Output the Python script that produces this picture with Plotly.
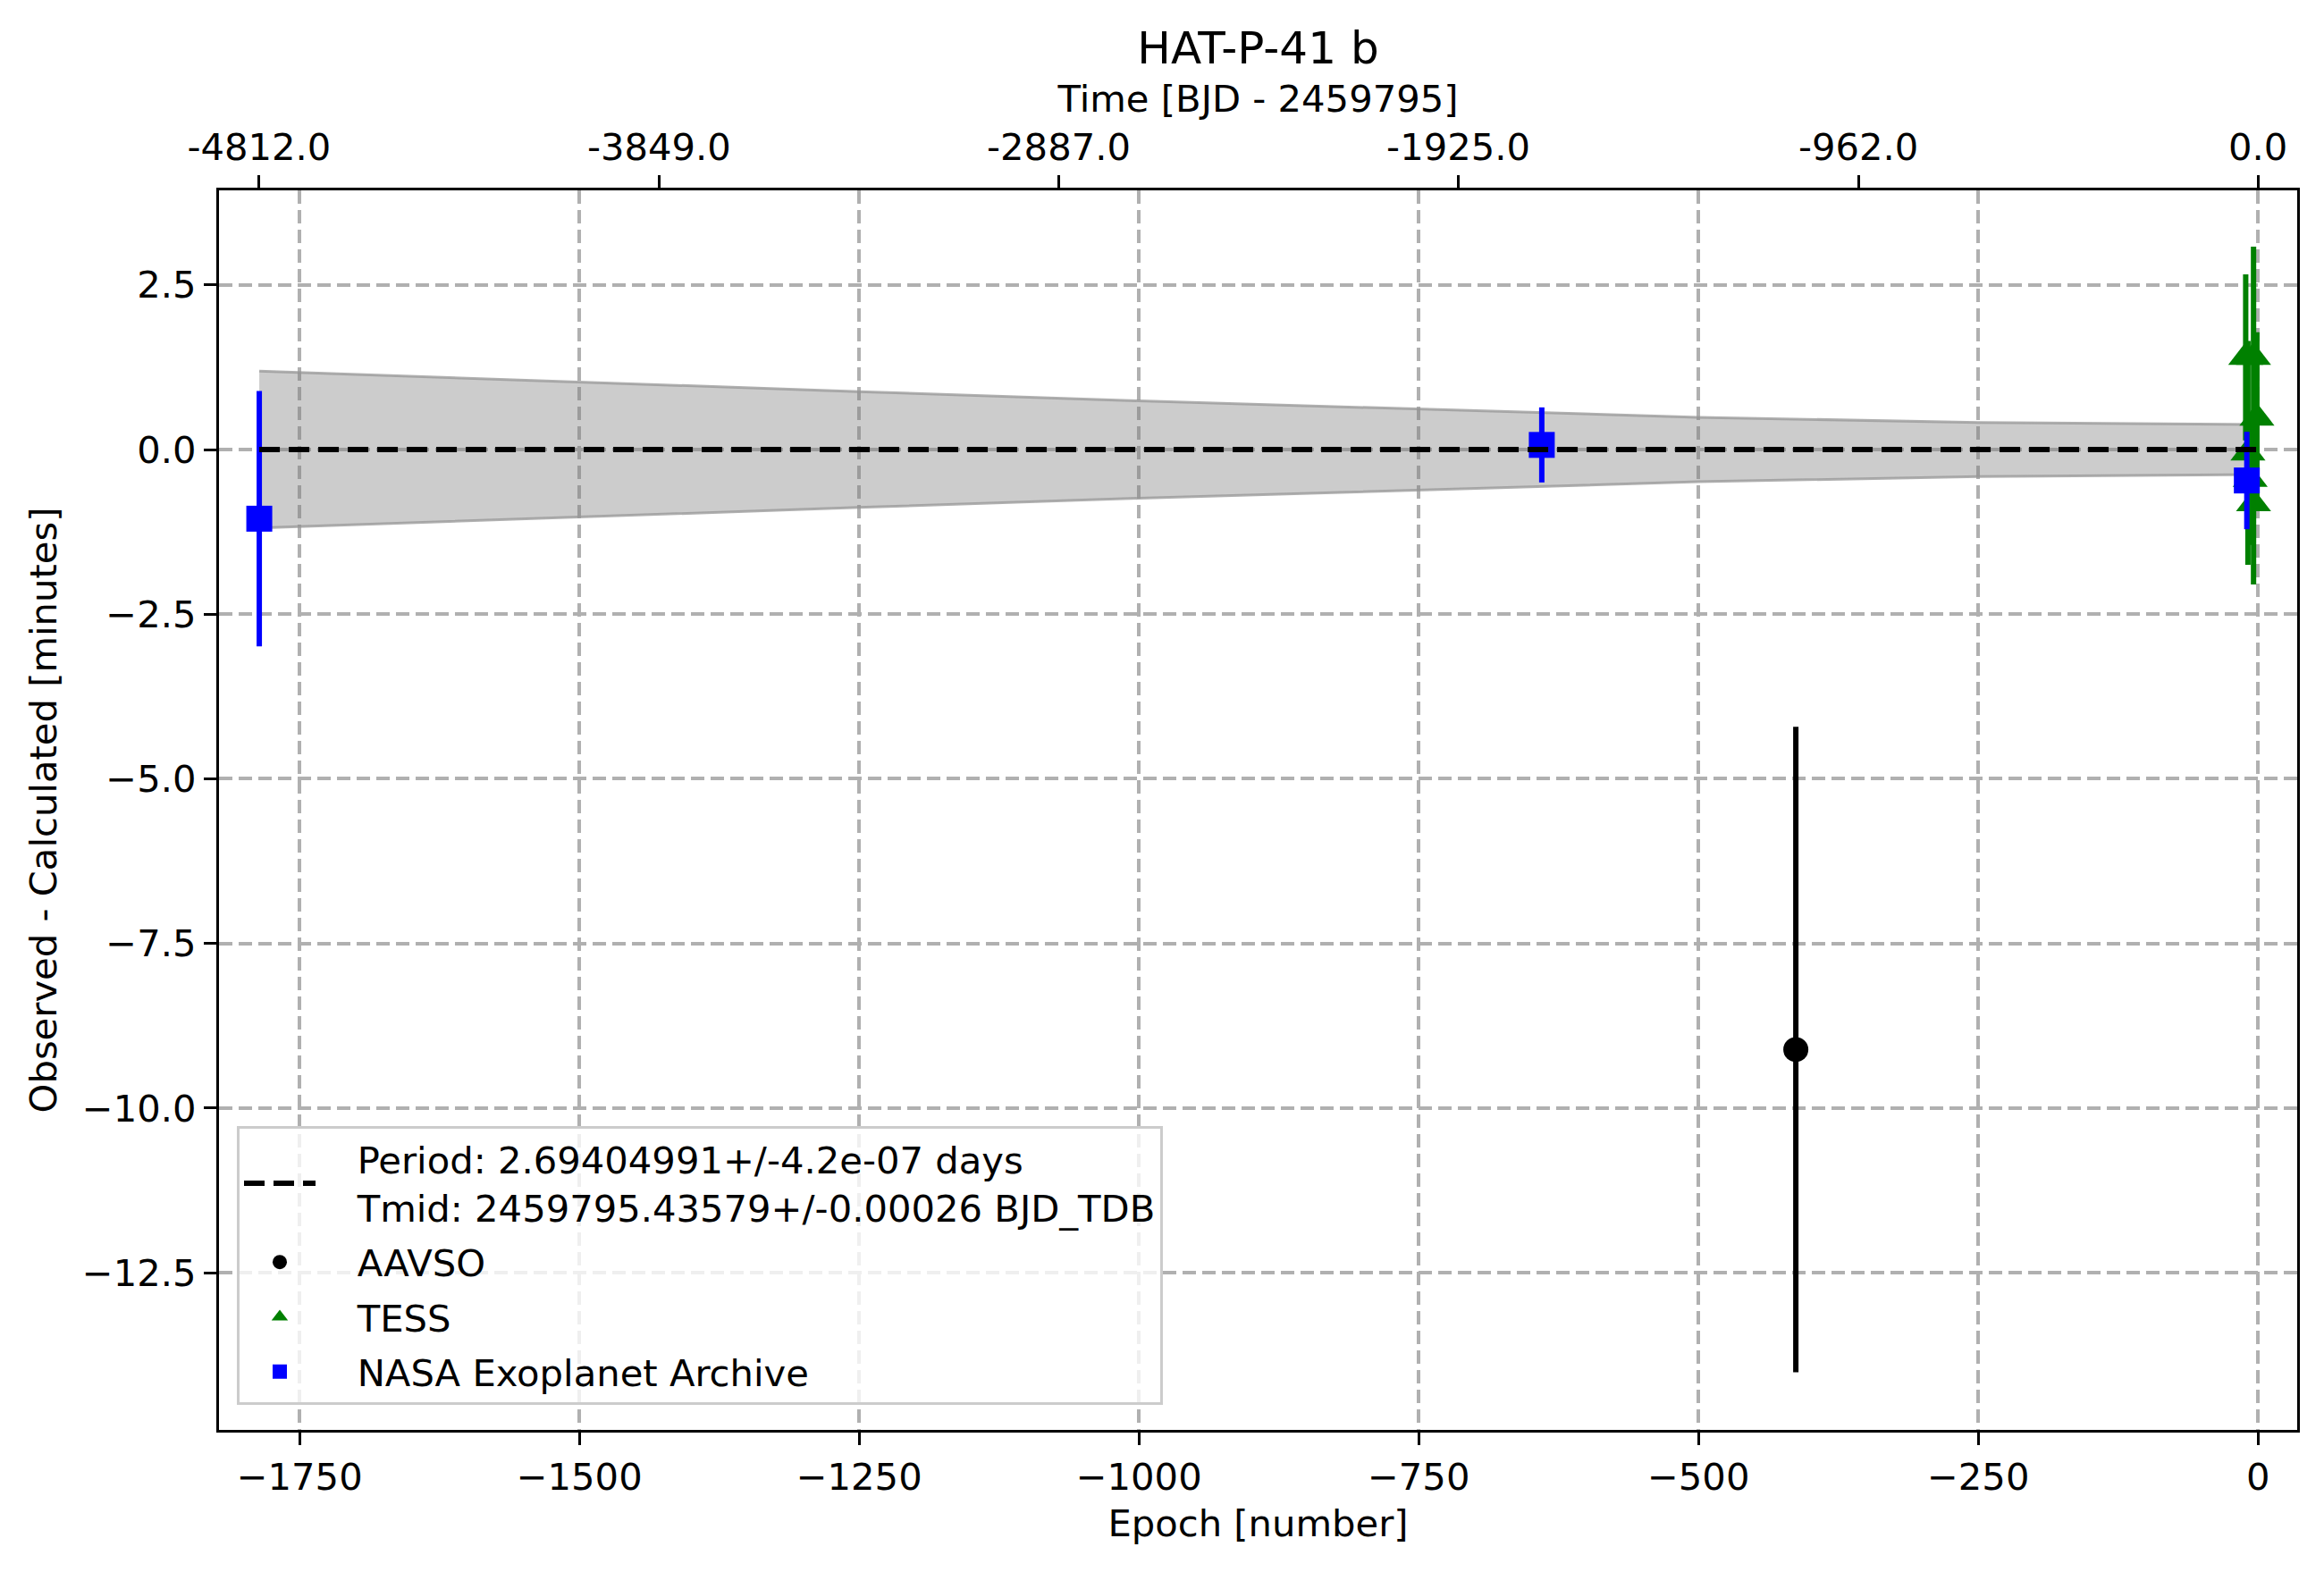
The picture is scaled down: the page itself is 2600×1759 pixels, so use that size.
import plotly.graph_objects as go

# ---------------- data ----------------
period_days = 2.69404991
top_times = [-4812.0, -3849.0, -2887.0, -1925.0, -962.0, 0.0]
top_labels = ["-4812.0", "-3849.0", "-2887.0", "-1925.0", "-962.0", "0.0"]
bottom_ticks = [-1750, -1500, -1250, -1000, -750, -500, -250, 0]
y_ticks = [2.5, 0.0, -2.5, -5.0, -7.5, -10.0, -12.5]

aavso_epoch = [-413]
aavso_oc = [-9.11]
aavso_err = [4.90]

tess_epoch = [-11, -4, -1, -9, -7, -4]
tess_oc = [1.40, 1.40, 0.48, -0.05, -0.45, -0.82]
tess_err = [1.26, 1.68, 1.30, 1.70, 1.00, 1.23]

nasa_epoch = [-1786, -640, -10]
nasa_oc = [-1.05, 0.07, -0.47]
nasa_err = [1.94, 0.57, 0.74]

band_epoch = [-1786, -1500, -1250, -1000, -750, -500, -250, 0]
band_upper = [1.19, 1.02, 0.88, 0.74, 0.61, 0.49, 0.41, 0.38]
band_lower = [-1.19, -1.02, -0.88, -0.74, -0.61, -0.49, -0.41, -0.38]

fit_epoch = [-1786, 0]
fit_oc = [0.0, 0.0]

PAD = "\u2002\u2002"  # small visual gap between legend handle and text
fit_label = (PAD + "Period: 2.69404991+/-4.2e-07 days<br>" +
             PAD + "Tmid: 2459795.43579+/-0.00026 BJD_TDB")

FONT = "DejaVu Sans"
FS = 41.7
OFF = 8  # default page body margin shifts the figure by this many px

fig = go.Figure()

# uncertainty band (closed polygon)
fig.add_trace(go.Scatter(
    x=band_epoch + band_epoch[::-1],
    y=band_upper + band_lower[::-1],
    fill="toself",
    fillcolor="rgba(128,128,128,0.4)",
    line=dict(color="rgba(150,150,150,0.75)", width=3),
    mode="lines",
    showlegend=False,
    hoverinfo="skip",
))

def err_trace(xs, ys, es, color, symbol, size, name, rank):
    return go.Scatter(
        x=xs, y=ys, mode="markers", name=PAD + name, legendrank=rank,
        legendgroup=name,
        marker=dict(color=color, symbol=symbol, size=size, line=dict(width=0)),
        error_y=dict(type="data", array=es, visible=True, color=color,
                     thickness=6, width=0),
    )

fig.add_trace(err_trace(aavso_epoch, aavso_oc, aavso_err, "black", "circle", 28, "AAVSO", 2))
fig.add_trace(err_trace(tess_epoch, tess_oc, tess_err, "green", "triangle-up", 34, "TESS", 3))
fig.add_trace(err_trace(nasa_epoch, nasa_oc, nasa_err, "blue", "square", 29,
                        "NASA Exoplanet Archive", 4))

# fitted ephemeris line (drawn on the overlaying top axis so it sits on top)
fig.add_trace(go.Scatter(
    x=fit_epoch, y=fit_oc, mode="lines", name=fit_label, legendrank=1,
    legendgroup="fit",
    line=dict(color="black", width=6, dash="23px,10px"),
    xaxis="x2",
))

axis_common = dict(
    showline=True, linecolor="black", linewidth=3.3,
    ticks="outside", ticklen=14, tickwidth=3.3, tickcolor="black",
    tickfont=dict(family=FONT, size=FS, color="black"),
    zeroline=False,
)

xrange = [-1822, 35]
fig.update_layout(
    width=2600, height=1759,
    paper_bgcolor="white", plot_bgcolor="white",
    margin=dict(l=245 - OFF, r=30 + OFF, t=213 - OFF, b=159 + OFF, pad=0),
    font=dict(family=FONT, size=FS, color="black"),
    title=dict(text="HAT-P-41 b", x=0.5, xref="paper", xanchor="center",
               y=1 - (53 - OFF) / 1759, yref="container", yanchor="middle",
               font=dict(family=FONT, size=50, color="black")),
    xaxis=dict(
        **axis_common,
        range=xrange, tickmode="array", tickvals=bottom_ticks,
        showgrid=True, gridcolor="#b0b0b0", gridwidth=3.5, griddash="15px,7px",
        mirror=False,
        title=dict(text="Epoch [number]", font=dict(family=FONT, size=FS), standoff=14),
    ),
    xaxis2=dict(
        **axis_common,
        overlaying="x", side="top", matches="x", range=xrange,
        tickmode="array",
        tickvals=[t / period_days for t in top_times],
        ticktext=top_labels,
        showgrid=False,
        title=dict(text="Time [BJD - 2459795]", font=dict(family=FONT, size=FS), standoff=2),
    ),
    yaxis=dict(
        **axis_common,
        range=[-14.885, 3.935], tickmode="array", tickvals=y_ticks,
        tickformat=".1f", mirror=True,
        showgrid=True, gridcolor="#b0b0b0", gridwidth=3.5, griddash="15px,7px",
        title=dict(text="Observed - Calculated [minutes]",
                   font=dict(family=FONT, size=FS), standoff=16),
    ),
    legend=dict(
        x=0.0086, y=0.245, xanchor="left", yanchor="top",
        bgcolor="rgba(255,255,255,0.8)", bordercolor="#cccccc", borderwidth=3,
        font=dict(family=FONT, size=FS, color="black"),
        itemwidth=80, tracegroupgap=4, traceorder="grouped",
    ),
)

fig.write_html("out.html")
